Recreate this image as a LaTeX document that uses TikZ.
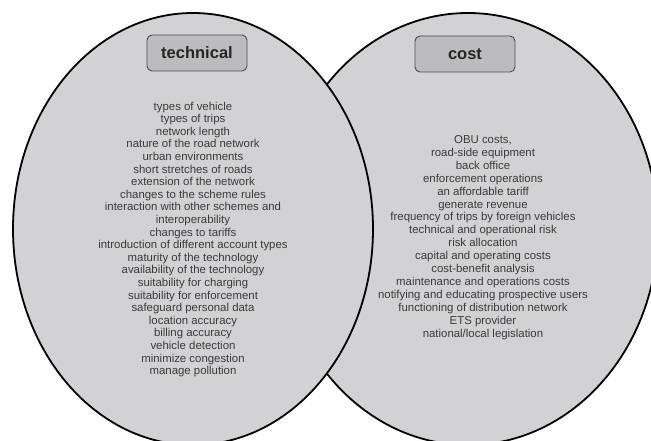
\documentclass[tikz,border=0pt]{standalone}
\usepackage{fontspec}
\setmainfont{Liberation Sans}
\definecolor{setgray}{HTML}{D2D2D4}
\definecolor{boxgray}{HTML}{BCBCBE}
\definecolor{inkgray}{HTML}{3A3A3A}
\begin{document}
\begin{tikzpicture}[x=1pt,y=-1pt,
  settitle/.style={draw=black!70,fill=boxgray,rounded corners=5pt,line width=0.9pt,
    minimum width=100pt,minimum height=36pt,text=black!85,
    font=\bfseries\fontsize{16.5}{18}\selectfont},
  factors/.style={align=center,text=inkgray,inner sep=0pt}]
  \useasboundingbox (0,0) rectangle (651,441);
  \clip (0,0) rectangle (651,441);
  \filldraw[fill=setgray,line width=1.8pt] (468,229) ellipse [x radius=190,y radius=216];
  \filldraw[fill=setgray,line width=1.8pt] (193,229) ellipse [x radius=180,y radius=216];
  \node[settitle] (technical) at (197,53) {technical};
  \node[settitle] (cost) at (465,54) {cost};
  \node[factors,font=\fontsize{11.4}{12.6}\selectfont] (techlist) at (193,239.5) {%
    types of vehicle\\ types of trips\\ network length\\ nature of the road network\\
    urban environments\\ short stretches of roads\\ extension of the network\\
    changes to the scheme rules\\ interaction with other schemes and\\ interoperability\\
    changes to tariffs\\ introduction of different account types\\
    maturity of the technology\\ availability of the technology\\
    suitability for charging\\ suitability for enforcement\\ safeguard personal data\\
    location accuracy\\ billing accuracy\\ vehicle detection\\ minimize congestion\\
    manage pollution};
  \node[factors,font=\fontsize{11.4}{12.9}\selectfont] (costlist) at (483,237.5) {%
    OBU costs,\\ road-side equipment\\ back office\\ enforcement operations\\
    an affordable tariff\\ generate revenue\\ frequency of trips by foreign vehicles\\
    technical and operational risk\\ risk allocation\\ capital and operating costs\\
    cost-benefit analysis\\ maintenance and operations costs\\
    notifying and educating prospective users\\ functioning of distribution network\\
    ETS provider\\ national/local legislation};
\end{tikzpicture}
\end{document}
